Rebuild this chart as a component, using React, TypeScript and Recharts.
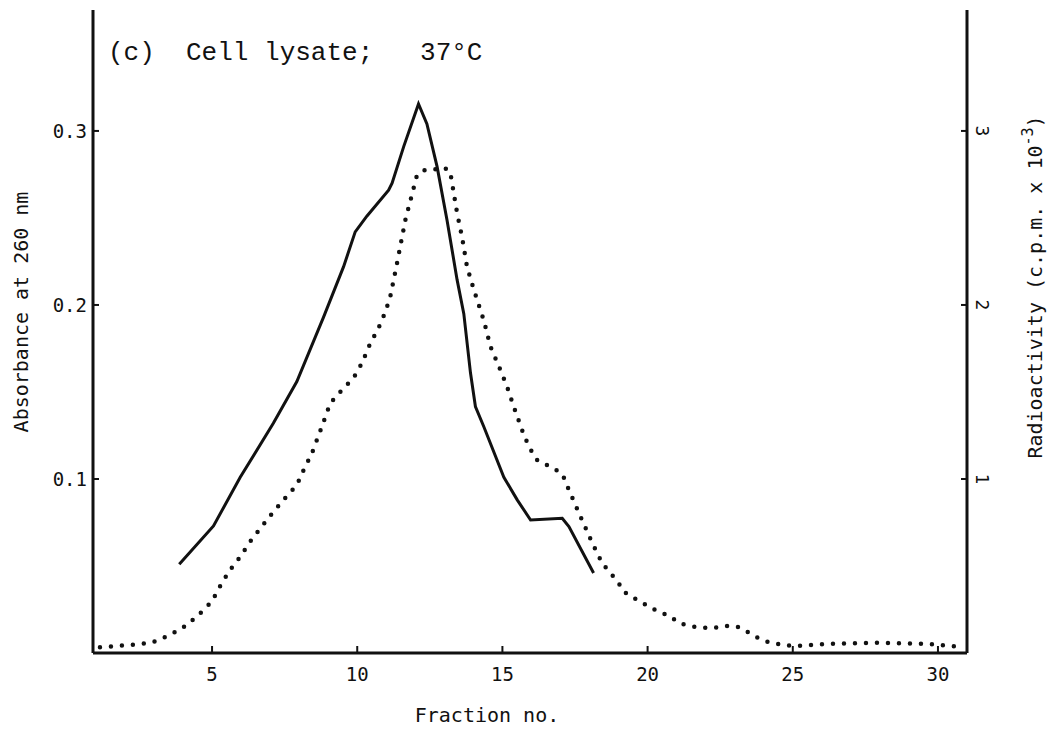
import React from 'react';
import { LineChart, Line, XAxis, YAxis } from 'recharts';

// Absorbance at 260 nm (solid line)
const absFraction = [3.87, 5.05, 5.97, 7.11, 7.92, 8.84, 9.53, 9.93, 10.33, 11.08, 11.2, 11.6, 12.11, 12.4, 12.75, 13.09, 13.44, 13.67, 13.9, 14.07, 14.36, 15.05, 15.51, 15.97, 17.06, 17.29, 18.14];
const absValues = [0.051, 0.073, 0.101, 0.132, 0.156, 0.193, 0.222, 0.242, 0.251, 0.266, 0.27, 0.291, 0.3155, 0.304, 0.2795, 0.249, 0.2144, 0.195, 0.161, 0.1416, 0.13, 0.101, 0.088, 0.0764, 0.0774, 0.0726, 0.046];

// Radioactivity, c.p.m. x 10^-3 (dotted line)
const cpmFraction = [1.14, 2.17, 2.92, 3.55, 4.13, 4.59, 4.99, 5.33, 5.62, 5.97, 6.31, 6.71, 7.06, 7.46, 7.92, 8.15, 8.44, 8.78, 9.07, 9.47, 9.87, 10.16, 10.45, 10.73, 10.97, 11.14, 11.37, 11.66, 11.83, 12.06, 12.34, 12.69, 12.98, 13.2, 13.44, 13.61, 13.78, 14.01, 14.36, 14.59, 14.93, 15.16, 15.39, 15.68, 15.91, 16.19, 16.77, 17.06, 17.29, 17.7, 18.1, 18.44, 18.78, 19.01, 19.18, 19.64, 20.22, 20.79, 21.08, 21.6, 22.17, 22.74, 23.09, 23.43, 23.83, 24.12, 24.64, 25.04, 26.19, 27.92, 29.64, 30.9];
const cpmValues = [0.033, 0.046, 0.06, 0.103, 0.16, 0.228, 0.295, 0.4, 0.477, 0.553, 0.64, 0.726, 0.8, 0.88, 0.966, 1.05, 1.148, 1.3, 1.435, 1.51, 1.58, 1.665, 1.78, 1.866, 1.96, 2.05, 2.24, 2.49, 2.6, 2.747, 2.776, 2.78, 2.79, 2.767, 2.527, 2.39, 2.22, 2.09, 1.91, 1.76, 1.626, 1.53, 1.416, 1.28, 1.186, 1.11, 1.06, 1.03, 0.937, 0.78, 0.63, 0.515, 0.448, 0.4, 0.352, 0.305, 0.251, 0.209, 0.171, 0.151, 0.142, 0.155, 0.151, 0.122, 0.084, 0.065, 0.046, 0.04, 0.052, 0.059, 0.052, 0.033];

const fractionTicks = [5, 10, 15, 20, 25, 30];
const absTicks = [0.1, 0.2, 0.3];
const cpmTicks = [1, 2, 3];

const absData = absFraction.map((x, i) => ({ x, abs: absValues[i] }));
const cpmData = cpmFraction.map((x, i) => ({ x, cpm: cpmValues[i] }));

const INK = '#111';
const MONO = '"DejaVu Sans Mono", monospace';

const RightTick = (props: any) => {
  const { x, y, payload } = props;
  return (
    <text
      transform={`translate(${x}, ${y}) rotate(90)`}
      textAnchor="middle"
      dominantBaseline="central"
      fontFamily={MONO}
      fontSize={18}
      fill={INK}
    >
      {payload.value}
    </text>
  );
};

export default function App() {
  return (
    <div style={{ position: 'absolute', left: 0, top: 0, width: 1050, height: 730, background: '#fff' }}>
      <LineChart width={1050} height={730} data={absData} margin={{ top: 10, right: 0, bottom: 0, left: 0 }}>
        <XAxis
          dataKey="x"
          type="number"
          domain={[0.9, 31]}
          ticks={fractionTicks}
          allowDataOverflow
          height={77}
          axisLine={{ stroke: INK, strokeWidth: 3 }}
          tickLine={{ stroke: INK, strokeWidth: 2 }}
          tickSize={-7}
          tickMargin={22}
          tick={{ fill: INK, fontSize: 19, fontFamily: MONO }}
          label={{
            content: () => (
              <text x={487} y={722} textAnchor="middle" fontFamily={MONO} fontSize={20} fill={INK}>
                Fraction no.
              </text>
            ),
          }}
        />
        <YAxis
          yAxisId="abs"
          orientation="left"
          type="number"
          domain={[0, 0.3695]}
          ticks={absTicks}
          allowDataOverflow
          width={93}
          axisLine={{ stroke: INK, strokeWidth: 3 }}
          tickLine={{ stroke: INK, strokeWidth: 2 }}
          tickSize={-6}
          tickMargin={12}
          tickFormatter={(v: number) => v.toFixed(1)}
          tick={{ fill: INK, fontSize: 19, fontFamily: MONO }}
          label={{
            content: () => (
              <text
                transform="translate(28, 312) rotate(-90)"
                textAnchor="middle"
                fontFamily={MONO}
                fontSize={20}
                fill={INK}
              >
                Absorbance at 260 nm
              </text>
            ),
          }}
        />
        <YAxis
          yAxisId="cpm"
          orientation="right"
          type="number"
          domain={[0, 3.695]}
          ticks={cpmTicks}
          allowDataOverflow
          width={83}
          axisLine={{ stroke: INK, strokeWidth: 3 }}
          tickLine={{ stroke: INK, strokeWidth: 2 }}
          tickSize={-6}
          tickMargin={21}
          tick={<RightTick />}
          label={{
            content: () => (
              <text
                transform="translate(1042, 287) rotate(-90)"
                textAnchor="middle"
                fontFamily={MONO}
                fontSize={20}
                fill={INK}
              >
                Radioactivity (c.p.m. x 10
                <tspan dy={-9} fontSize={15}>-3</tspan>
                <tspan dy={9}>)</tspan>
              </text>
            ),
          }}
        />
        <Line
          yAxisId="abs"
          data={absData}
          dataKey="abs"
          type="linear"
          stroke={INK}
          strokeWidth={3}
          dot={false}
          activeDot={false}
          isAnimationActive={false}
        />
        <Line
          yAxisId="cpm"
          data={cpmData}
          dataKey="cpm"
          type="linear"
          stroke={INK}
          strokeWidth={4.5}
          strokeDasharray="0 11"
          strokeLinecap="round"
          dot={false}
          activeDot={false}
          isAnimationActive={false}
        />
      </LineChart>
      <div
        style={{
          position: 'absolute',
          left: 108,
          top: 37,
          fontFamily: '"Liberation Mono", monospace',
          fontSize: 26,
          lineHeight: '32px',
          whiteSpace: 'pre',
          color: INK,
        }}
      >
        {'(c)  Cell lysate;   37°C'}
      </div>
    </div>
  );
}
